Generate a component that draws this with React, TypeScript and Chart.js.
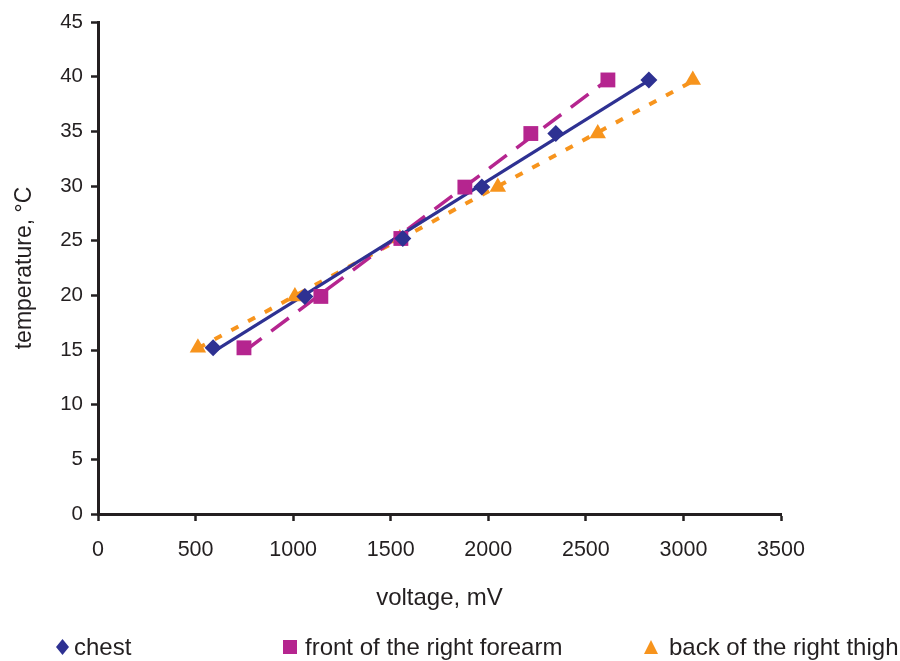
import React, { useEffect, useRef } from "react";
import { Chart, registerables } from "chart.js";

Chart.register(...registerables);

// Measured temperatures (°C), shared by the three sensor sites
const temperatures = [15.2, 19.9, 25.2, 29.9, 34.8, 39.7];

// Sensor output voltage (mV) at each site
const chestVoltage = [590, 1060, 1562, 1967, 2346, 2823];
const forearmVoltage = [748, 1142, 1552, 1880, 2218, 2613];
const thighVoltage = [512, 1009, 1547, 2049, 2561, 3048];

const seriesNames = ["chest", "front of the right forearm", "back of the right thigh"];
const seriesColors = ["#2e3192", "#b5258f", "#f7941d"];

const xRange = [0, 3500];
const yRange = [0, 45];

const FONT = "'Liberation Sans', Arial, Helvetica, sans-serif";
const INK = "#231f20";

// Least-squares linear trend across the measured span
function trend(xs: number[], ys: number[]) {
  const n = xs.length;
  const mx = xs.reduce((a, b) => a + b, 0) / n;
  const my = ys.reduce((a, b) => a + b, 0) / n;
  let sxy = 0;
  let sxx = 0;
  for (let i = 0; i < n; i++) {
    sxy += (xs[i] - mx) * (ys[i] - my);
    sxx += (xs[i] - mx) * (xs[i] - mx);
  }
  const slope = sxy / sxx;
  const icpt = my - slope * mx;
  const lo = Math.min(...xs);
  const hi = Math.max(...xs);
  return [
    { x: lo, y: icpt + slope * lo },
    { x: hi, y: icpt + slope * hi },
  ];
}

const points = (xs: number[]) => xs.map((x, i) => ({ x, y: temperatures[i] }));

function LegendMark({ kind, color }: { kind: string; color: string }) {
  if (kind === "diamond")
    return (
      <svg width="15" height="18" style={{ marginRight: 4 }}>
        <polygon points="7.5,1 14,9 7.5,17 1,9" fill={color} />
      </svg>
    );
  if (kind === "square")
    return (
      <svg width="14" height="16" style={{ marginRight: 8 }}>
        <rect x="0" y="1" width="14" height="14" fill={color} />
      </svg>
    );
  return (
    <svg width="16" height="16" style={{ marginRight: 10 }}>
      <polygon points="8,1 15,15 1,15" fill={color} />
    </svg>
  );
}

export default function App() {
  const canvasRef = useRef<HTMLCanvasElement | null>(null);

  useEffect(() => {
    const canvas = canvasRef.current;
    if (!canvas) return;

    const chart = new Chart(canvas, {
      type: "scatter",
      data: {
        datasets: [
          {
            label: seriesNames[0],
            data: points(chestVoltage),
            pointStyle: "rectRot",
            pointRadius: 8.5,
            backgroundColor: seriesColors[0],
            borderColor: seriesColors[0],
            borderWidth: 0,
            order: 1,
          },
          {
            label: seriesNames[1],
            data: points(forearmVoltage),
            pointStyle: "rect",
            pointRadius: 10.5,
            backgroundColor: seriesColors[1],
            borderColor: seriesColors[1],
            borderWidth: 0,
            order: 2,
          },
          {
            label: seriesNames[2],
            data: points(thighVoltage),
            pointStyle: "triangle",
            pointRadius: 9.5,
            backgroundColor: seriesColors[2],
            borderColor: seriesColors[2],
            borderWidth: 0,
            order: 3,
          },
          {
            type: "line",
            label: seriesNames[0] + " trend",
            data: trend(chestVoltage, temperatures),
            showLine: true,
            pointRadius: 0,
            borderColor: seriesColors[0],
            borderWidth: 3.2,
            order: 4,
          },
          {
            type: "line",
            label: seriesNames[1] + " trend",
            data: trend(forearmVoltage, temperatures),
            showLine: true,
            pointRadius: 0,
            borderColor: seriesColors[1],
            borderWidth: 3.5,
            borderDash: [22, 12],
            order: 5,
          },
          {
            type: "line",
            label: seriesNames[2] + " trend",
            data: trend(thighVoltage, temperatures),
            showLine: true,
            pointRadius: 0,
            borderColor: seriesColors[2],
            borderWidth: 4,
            borderDash: [8, 11],
            order: 6,
          },
        ] as any,
      },
      options: {
        animation: false,
        responsive: false,
        maintainAspectRatio: false,
        layout: { padding: { top: 22, right: 119, bottom: 0, left: 0 } },
        plugins: {
          legend: { display: false },
          tooltip: { enabled: false },
        },
        scales: {
          x: {
            type: "linear",
            min: xRange[0],
            max: xRange[1],
            ticks: {
              stepSize: 500,
              color: INK,
              font: { family: FONT, size: 21.5 },
              padding: 16,
              maxRotation: 0,
              callback: (v: any) => String(v),
            },
            grid: {
              display: true,
              drawOnChartArea: false,
              drawTicks: true,
              tickLength: 7,
              tickWidth: 2.5,
              tickColor: INK,
            },
            border: { display: true, color: INK, width: 3 },
            title: {
              display: true,
              text: "voltage, mV",
              color: INK,
              font: { family: FONT, size: 24 },
              padding: { top: 0, bottom: 48 },
            },
            afterFit: (scale: any) => {
              scale.height = 147;
            },
          },
          y: {
            type: "linear",
            min: yRange[0],
            max: yRange[1],
            ticks: {
              stepSize: 5,
              color: INK,
              font: { family: FONT, size: 20.5 },
              padding: 8,
            },
            grid: {
              display: true,
              drawOnChartArea: false,
              drawTicks: true,
              tickLength: 7,
              tickWidth: 2.5,
              tickColor: INK,
            },
            border: { display: true, color: INK, width: 3 },
            title: {
              display: true,
              text: "temperature, °C",
              color: INK,
              font: { family: FONT, size: 23 },
              padding: { top: 11, bottom: 0 },
            },
            afterFit: (scale: any) => {
              scale.width = 98;
            },
          },
        },
      } as any,
    });

    return () => chart.destroy();
  }, []);

  const legendItems = [
    { name: seriesNames[0], kind: "diamond", color: seriesColors[0], left: 55 },
    { name: seriesNames[1], kind: "square", color: seriesColors[1], left: 283 },
    { name: seriesNames[2], kind: "triangle", color: seriesColors[2], left: 643 },
  ];

  return (
    <div
      style={{
        position: "absolute",
        left: 0,
        top: 0,
        width: 900,
        height: 661,
        background: "#ffffff",
        overflow: "hidden",
      }}
    >
      <canvas ref={canvasRef} width={900} height={661} style={{ display: "block" }} />
      {legendItems.map((it) => (
        <div
          key={it.name}
          style={{
            position: "absolute",
            left: it.left,
            top: 633,
            height: 28,
            display: "flex",
            alignItems: "center",
            fontFamily: FONT,
            fontSize: 24,
            lineHeight: "28px",
            color: INK,
            whiteSpace: "nowrap",
          }}
        >
          <LegendMark kind={it.kind} color={it.color} />
          <span>{it.name}</span>
        </div>
      ))}
    </div>
  );
}
